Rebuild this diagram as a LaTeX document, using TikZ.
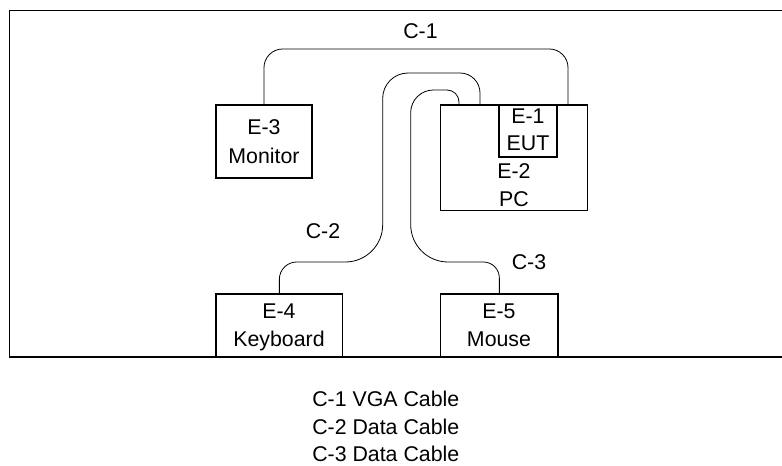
\documentclass[tikz,border=0pt]{standalone}
\usepackage{fontspec}
\setmainfont{Liberation Sans}
\usetikzlibrary{fit}
\begin{document}
\begin{tikzpicture}[x=0.75pt,y=-0.75pt,
  frame/.style={draw=black,line width=1.2pt},
  box/.style={draw=black,line width=0.9pt,inner sep=0pt,rectangle},
  cable/.style={draw=black,line width=0.6pt},
  lbl/.style={inner sep=0pt,anchor=base,font=\fontsize{16}{20}\selectfont},
  leg/.style={inner sep=0pt,anchor=base west,font=\fontsize{16}{20}\selectfont}]
\clip (0,0) rectangle (782,466);
\fill[white] (0,0) rectangle (782,466);
\draw[frame] (9.5,10.5) rectangle (800,357);
% boxes
\node[box,fit={(216,105) (312,178)}] (mon) {};
\node[box,fit={(440.7,105) (587.7,210.7)}] (pc) {};
\node[box,fit={(499,105) (557,157)}] (eut) {};
\node[box,fit={(216,294) (342.7,357)}] (kb) {};
\node[box,fit={(440.7,294) (558,357)}] (mouse) {};
% texts
\node[lbl] (t3a) at (264,135) {E-3};
\node[lbl] (t3b) at (264,163.3) {Monitor};
\node[lbl] (t1a) at (528,124) {E-1};
\node[lbl] (t1b) at (528,150.7) {EUT};
\node[lbl] (t2a) at (514,179) {E-2};
\node[lbl] (t2b) at (514,206.7) {PC};
\node[lbl] (t4a) at (279,318.3) {E-4};
\node[lbl] (t4b) at (279,346.7) {Keyboard};
\node[lbl] (t5a) at (499,318.3) {E-5};
\node[lbl] (t5b) at (499,346.7) {Mouse};
\node[lbl] (lc1) at (420.5,38.3) {C-1};
\node[lbl] (lc2) at (323,238.3) {C-2};
\node[lbl] (lc3) at (529,269.3) {C-3};
% legend
\node[leg] (g1) at (312,406.7) {C-1 VGA Cable};
\node[leg] (g2) at (312,434.2) {C-2 Data Cable};
\node[leg] (g3) at (312,461.7) {C-3 Data Cable};
% cable coordinates
\coordinate (c1r) at (568,49);
\coordinate (c2a) at (480,73);
\coordinate (c2b) at (382.7,73);
\coordinate (c2c) at (382.7,262);
\coordinate (c3a) at (459,90);
\coordinate (c3b) at (410.7,90);
\coordinate (c3c) at (410.7,262);
% C-1
\draw[cable,rounded corners=14pt] (mon.north) |- (c1r) -- (c1r |- pc.north);
% C-2
\draw[cable,rounded corners=15pt] (c2a |- pc.north) -- (c2a)
  [rounded corners=19pt] -- (c2b)
  [rounded corners=28pt] -- (c2c)
  [rounded corners=13pt] -| (kb.north);
% C-3
\draw[cable,rounded corners=9pt] (c3a |- pc.north) -- (c3a)
  [rounded corners=17pt] -- (c3b)
  [rounded corners=28pt] -- (c3c)
  [rounded corners=12pt] -| (mouse.north);
\end{tikzpicture}
\end{document}
